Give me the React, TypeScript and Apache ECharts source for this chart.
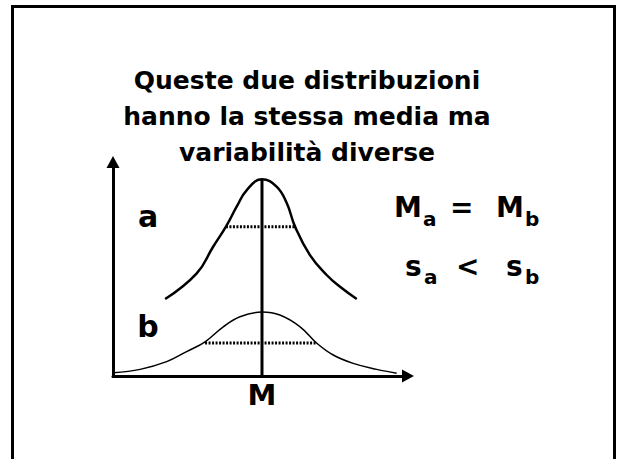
import React, { useEffect, useRef } from "react";
import * as echarts from "echarts";

// Curve a: narrow distribution (x relative to the mean M, y = height)
const curveAX = [-3.25, -2.19, -1.64, -1.21, -0.85, -0.51, 0, 0.49, 0.83, 1.11, 1.61, 2.17, 2.62, 3.18];
const curveAY = [3.6, 4.8, 6.04, 6.98, 7.91, 8.69, 9.19, 8.85, 8.08, 6.98, 5.65, 4.72, 4.17, 3.6];

// Curve b: wide distribution
const curveBX = [-4.99, -4.09, -3.2, -2.53, -1.91, -1.3, -0.74, 0, 0.6, 1.28, 1.84, 2.39, 3.06, 3.85, 4.52];
const curveBY = [0.15, 0.31, 0.67, 1.14, 1.6, 2.3, 2.77, 2.99, 2.85, 2.3, 1.53, 0.98, 0.59, 0.31, 0.13];

// Mean line and the spread markers of each curve
const meanX = 0;
const meanTop = 9.19;
const spreadA = { from: -1.21, to: 1.11, y: 6.98 };
const spreadB = { from: -1.91, to: 1.85, y: 1.54 };

const titleLines = ["Queste due distribuzioni", "hanno la stessa media ma", "variabilità diverse"];
const xTickLabel = "M";

const FONT = "'DejaVu Sans', Verdana, sans-serif";

export default function App() {
  const ref = useRef<HTMLDivElement>(null);

  useEffect(() => {
    if (!ref.current) return;
    const chart = echarts.init(ref.current, undefined, { renderer: "svg" });

    const pairs = (xs: number[], ys: number[]) => xs.map((x, i) => [x, ys[i]]);
    const black = "#000";
    const txt = (text: string, x: number, y: number, size: number, align = "left") => ({
      type: "text",
      x,
      y,
      style: {
        text,
        fill: black,
        font: `bold ${size}px ${FONT}`,
        align,
        verticalAlign: "middle",
      },
    });

    chart.setOption({
      animation: false,
      backgroundColor: "#fff",
      grid: { left: 113, top: 162, right: 213, bottom: 83, containLabel: false },
      xAxis: {
        type: "value",
        min: -5,
        max: 4.9,
        interval: 5,
        axisLine: {
          show: true,
          onZero: false,
          symbol: ["none", "triangle"],
          symbolSize: [13, 12],
          lineStyle: { color: black, width: 3 },
        },
        axisTick: { show: false },
        splitLine: { show: false },
        axisLabel: {
          margin: 4,
          color: black,
          fontSize: 29,
          fontWeight: "bold",
          fontFamily: FONT,
          showMinLabel: true,
          formatter: (v: number) => (v === meanX ? xTickLabel : ""),
        },
      },
      yAxis: {
        type: "value",
        min: 0,
        max: 10,
        axisLine: {
          show: true,
          onZero: false,
          symbol: ["none", "triangle"],
          symbolSize: [13, 12],
          lineStyle: { color: black, width: 3 },
        },
        axisTick: { show: false },
        splitLine: { show: false },
        axisLabel: { show: false },
      },
      series: [
        {
          type: "line",
          data: pairs(curveAX, curveAY),
          smooth: 0.45,
          symbol: "none",
          lineStyle: { color: black, width: 2.5 },
        },
        {
          type: "line",
          data: pairs(curveBX, curveBY),
          smooth: 0.4,
          symbol: "none",
          lineStyle: { color: black, width: 1.5 },
        },
        {
          type: "line",
          data: [[spreadA.from, spreadA.y], [spreadA.to, spreadA.y]],
          symbol: "none",
          lineStyle: { color: black, width: 3, type: [2, 1.5] },
        },
        {
          type: "line",
          data: [[spreadB.from, spreadB.y], [spreadB.to, spreadB.y]],
          symbol: "none",
          lineStyle: { color: black, width: 3, type: [2, 1.5] },
        },
        {
          type: "line",
          data: [[meanX, 0], [meanX, meanTop]],
          symbol: "none",
          lineStyle: { color: black, width: 3 },
        },
      ],
      graphic: [
        {
          type: "rect",
          shape: { x: 12.5, y: 6.5, width: 602, height: 480 },
          style: { fill: "none", stroke: black, lineWidth: 3 },
        },
        {
          type: "text",
          x: 307,
          y: 62,
          style: {
            text: titleLines.join("\n"),
            fill: black,
            font: `bold 25px ${FONT}`,
            align: "center",
            verticalAlign: "top",
            lineHeight: 36,
          },
        },
        txt("a", 148, 216, 30, "center"),
        txt("b", 148, 326, 30, "center"),
        txt("M", 394, 207, 28),
        txt("a", 423, 219, 20),
        txt("=", 450, 207, 28),
        txt("M", 496, 207, 28),
        txt("b", 525, 219, 20),
        txt("s", 405, 266, 28),
        txt("a", 424, 277, 20),
        txt("<", 456, 266, 28),
        txt("s", 506, 266, 28),
        txt("b", 525, 277, 20),
      ],
    });

    return () => chart.dispose();
  }, []);

  return (
    <div
      ref={ref}
      style={{ position: "fixed", left: 0, top: 0, width: 621, height: 459 }}
    />
  );
}
